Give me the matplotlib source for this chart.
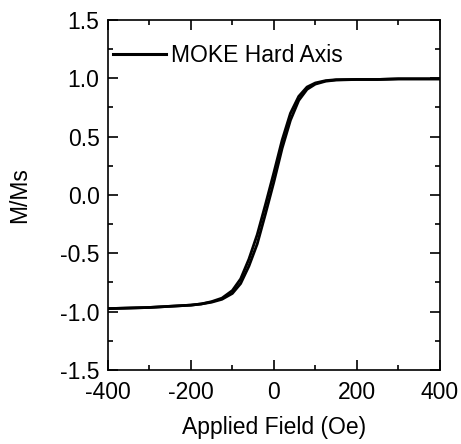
import matplotlib.pyplot as plt

plt.rcParams['font.family'] = ['Liberation Sans', 'DejaVu Sans']

# applied field (Oe) and normalised magnetisation for both loop branches
field = [-400, -350, -300, -250, -200, -175, -150, -125, -100, -80, -60, -40, -20,
         0, 20, 40, 60, 80, 100, 125, 150, 200, 250, 300, 350, 400]
m_up = [-0.975, -0.97, -0.965, -0.955, -0.945, -0.935, -0.92, -0.895, -0.845, -0.76,
        -0.61, -0.42, -0.16, 0.11, 0.40, 0.64, 0.81, 0.905, 0.95, 0.975, 0.985,
        0.99, 0.99, 0.995, 0.995, 0.995]
m_down = [-0.975, -0.97, -0.965, -0.955, -0.945, -0.935, -0.915, -0.885, -0.82, -0.72,
          -0.55, -0.34, -0.08, 0.19, 0.47, 0.70, 0.845, 0.925, 0.96, 0.98, 0.988,
          0.99, 0.99, 0.995, 0.995, 0.995]

x_ticks = [-400, -200, 0, 200, 400]
y_ticks = [-1.5, -1.0, -0.5, 0.0, 0.5, 1.0, 1.5]

fig = plt.figure(figsize=(4.61, 4.44), dpi=100)
ax = fig.add_axes([0.234, 0.167, 0.72, 0.788])

ax.plot(field, m_up, color="black", lw=2, label="MOKE Hard Axis")
ax.plot(field, m_down, color="black", lw=2)

ax.set_xlim(-400, 400)
ax.set_ylim(-1.5, 1.5)
ax.set_xticks(x_ticks)
ax.set_yticks(y_ticks)
ax.set_xticks([-300, -100, 100, 300], minor=True)
ax.set_yticks([-1.25, -0.75, -0.25, 0.25, 0.75, 1.25], minor=True)
ax.set_xticklabels([str(v) for v in x_ticks])
ax.set_yticklabels([f"{v:.1f}" for v in y_ticks])

ax.tick_params(which="both", direction="in", top=True, right=True, width=1.2, labelsize=16.5)
ax.tick_params(which="major", length=7)
ax.tick_params(axis="x", which="major", pad=8)
ax.tick_params(axis="y", which="major", pad=6)
ax.tick_params(which="minor", length=3.5)
for s in ax.spines.values():
    s.set_linewidth(1.2)

ax.set_xlabel("Applied Field (Oe)", fontsize=16.5, labelpad=9)
ax.set_ylabel("M/Ms", fontsize=16.5, labelpad=21)

leg = ax.legend(loc="upper left", bbox_to_anchor=(0.015, 0.93), frameon=False,
                fontsize=16.5, handlelength=2.3, handletextpad=0.25,
                borderpad=0, borderaxespad=0)
leg.get_lines()[0].set_linewidth(2.2)

fig.savefig("out.png", dpi=100)
